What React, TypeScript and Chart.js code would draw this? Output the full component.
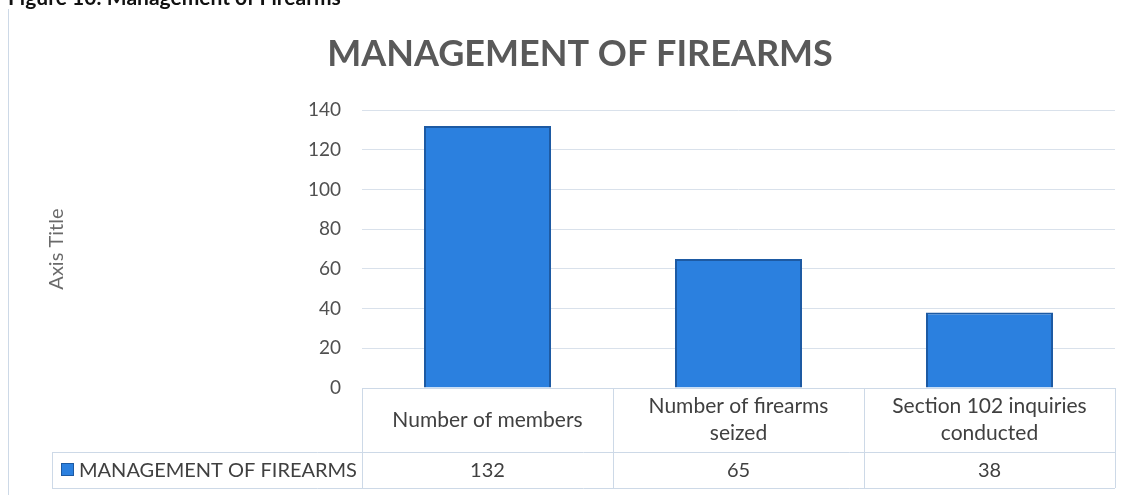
import React, { useEffect, useRef } from "react";
import { Chart, registerables } from "chart.js";

Chart.register(...registerables);

const FIGURE_CAPTION = "Figure 10: Management of Firearms";
const CHART_TITLE = "MANAGEMENT OF FIREARMS";
const SERIES_NAME = "MANAGEMENT OF FIREARMS";
const Y_AXIS_TITLE = "Axis Title";
const categories: string[][] = [
  ["Number of members"],
  ["Number of firearms", "seized"],
  ["Section 102 inquiries", "conducted"],
];
const values: number[] = [132, 65, 38];
const yTicks: number[] = [0, 20, 40, 60, 80, 100, 120, 140];

const FONT = "Lato, 'Open Sans', sans-serif";
const BAR_COLOR = "#2b80df";
const BAR_BORDER = "#1d5aa3";
const LINE_COLOR = "#cdd9e7";
const TEXT_COLOR = "#404040";

const tablePlugin = {
  id: "dataTable",
  afterDraw(chart: any) {
    const ctx = chart.ctx;
    const ca = chart.chartArea;
    const xs = chart.scales.x;
    const n = values.length;
    const cellW = (ca.right - ca.left) / n;
    const top = ca.bottom;
    const mid = 452;
    const bottom = 488;
    const legendLeft = 52;
    ctx.save();
    // caption (cut at top)
    ctx.fillStyle = "#111";
    ctx.font = `bold 21px ${FONT}`;
    ctx.textAlign = "left";
    ctx.textBaseline = "alphabetic";
    ctx.fillText(FIGURE_CAPTION, 8, 5);
    // outer chart border (left)
    ctx.strokeStyle = LINE_COLOR;
    ctx.lineWidth = 1;
    ctx.beginPath();
    ctx.moveTo(8.5, 9);
    ctx.lineTo(8.5, 495);
    ctx.stroke();
    // table lines
    ctx.strokeStyle = LINE_COLOR;
    ctx.beginPath();
    ctx.moveTo(ca.left, Math.round(top) + 0.5);
    ctx.lineTo(ca.right, Math.round(top) + 0.5);
    ctx.moveTo(legendLeft, mid + 0.5);
    ctx.lineTo(ca.right, mid + 0.5);
    ctx.moveTo(legendLeft, bottom + 0.5);
    ctx.lineTo(ca.right, bottom + 0.5);
    ctx.moveTo(legendLeft + 0.5, mid);
    ctx.lineTo(legendLeft + 0.5, bottom);
    for (let i = 0; i <= n; i++) {
      const x = Math.round(ca.left + i * cellW) + 0.5;
      ctx.moveTo(x, top);
      ctx.lineTo(x, bottom);
    }
    ctx.stroke();
    // category labels
    ctx.fillStyle = TEXT_COLOR;
    ctx.font = `21px ${FONT}`;
    ctx.textAlign = "center";
    ctx.textBaseline = "middle";
    const headerMid = (top + mid) / 2;
    const lh = 27;
    categories.forEach((lines, i) => {
      const cx = xs.getPixelForValue(i);
      const startY = headerMid - ((lines.length - 1) * lh) / 2;
      lines.forEach((t, j) => ctx.fillText(t, cx, startY + j * lh));
    });
    // values row
    const rowMid = (mid + bottom) / 2 + 1;
    ctx.font = `20px ${FONT}`;
    values.forEach((v, i) => {
      ctx.fillText(String(v), xs.getPixelForValue(i), rowMid);
    });
    // legend cell
    ctx.fillStyle = BAR_COLOR;
    ctx.strokeStyle = BAR_BORDER;
    ctx.fillRect(61, 463, 13, 13);
    ctx.strokeRect(61.5, 463.5, 12, 12);
    ctx.fillStyle = TEXT_COLOR;
    ctx.font = `20px ${FONT}`;
    ctx.textAlign = "left";
    ctx.fillText(SERIES_NAME, 79, rowMid);
    ctx.restore();
  },
};

export default function App() {
  const ref = useRef<HTMLCanvasElement | null>(null);
  useEffect(() => {
    if (!ref.current) return;
    const chart = new Chart(ref.current, {
      type: "bar",
      data: {
        labels: categories,
        datasets: [
          {
            label: SERIES_NAME,
            data: values,
            backgroundColor: BAR_COLOR,
            borderColor: BAR_BORDER,
            borderWidth: 2,
            categoryPercentage: 1,
            barPercentage: 0.506,
          },
        ],
      },
      options: {
        animation: false,
        responsive: false,
        maintainAspectRatio: false,
        layout: { padding: { left: 45, right: 16, top: 0, bottom: 107 } },
        plugins: {
          legend: { display: false },
          tooltip: { enabled: false },
          title: {
            display: true,
            text: CHART_TITLE,
            color: "#595959",
            font: { family: FONT, size: 36, weight: "bold" },
            padding: { top: 33, bottom: 34 },
          },
        },
        scales: {
          x: { display: false },
          y: {
            min: 0,
            max: 140,
            afterBuildTicks: (scale: any) => {
              scale.ticks = yTicks.map((v) => ({ value: v }));
            },
            afterFit: (scale: any) => {
              scale.width = 362 - 45;
            },
            border: { display: false },
            grid: { color: "#d9e1eb", drawTicks: false },
            ticks: {
              color: "#505050",
              font: { family: FONT, size: 19 },
              padding: 21,
            },
            title: {
              display: true,
              text: Y_AXIS_TITLE,
              color: "#6a6a6a",
              font: { family: FONT, size: 20 },
              padding: 0,
            },
          },
        },
      },
      plugins: [tablePlugin],
    });
    return () => chart.destroy();
  }, []);
  return (
    <div style={{ position: "fixed", left: 0, top: 0, width: 1131, height: 495, background: "#fff" }}>
      <canvas ref={ref} width={1131} height={495} style={{ width: 1131, height: 495 }} />
    </div>
  );
}
